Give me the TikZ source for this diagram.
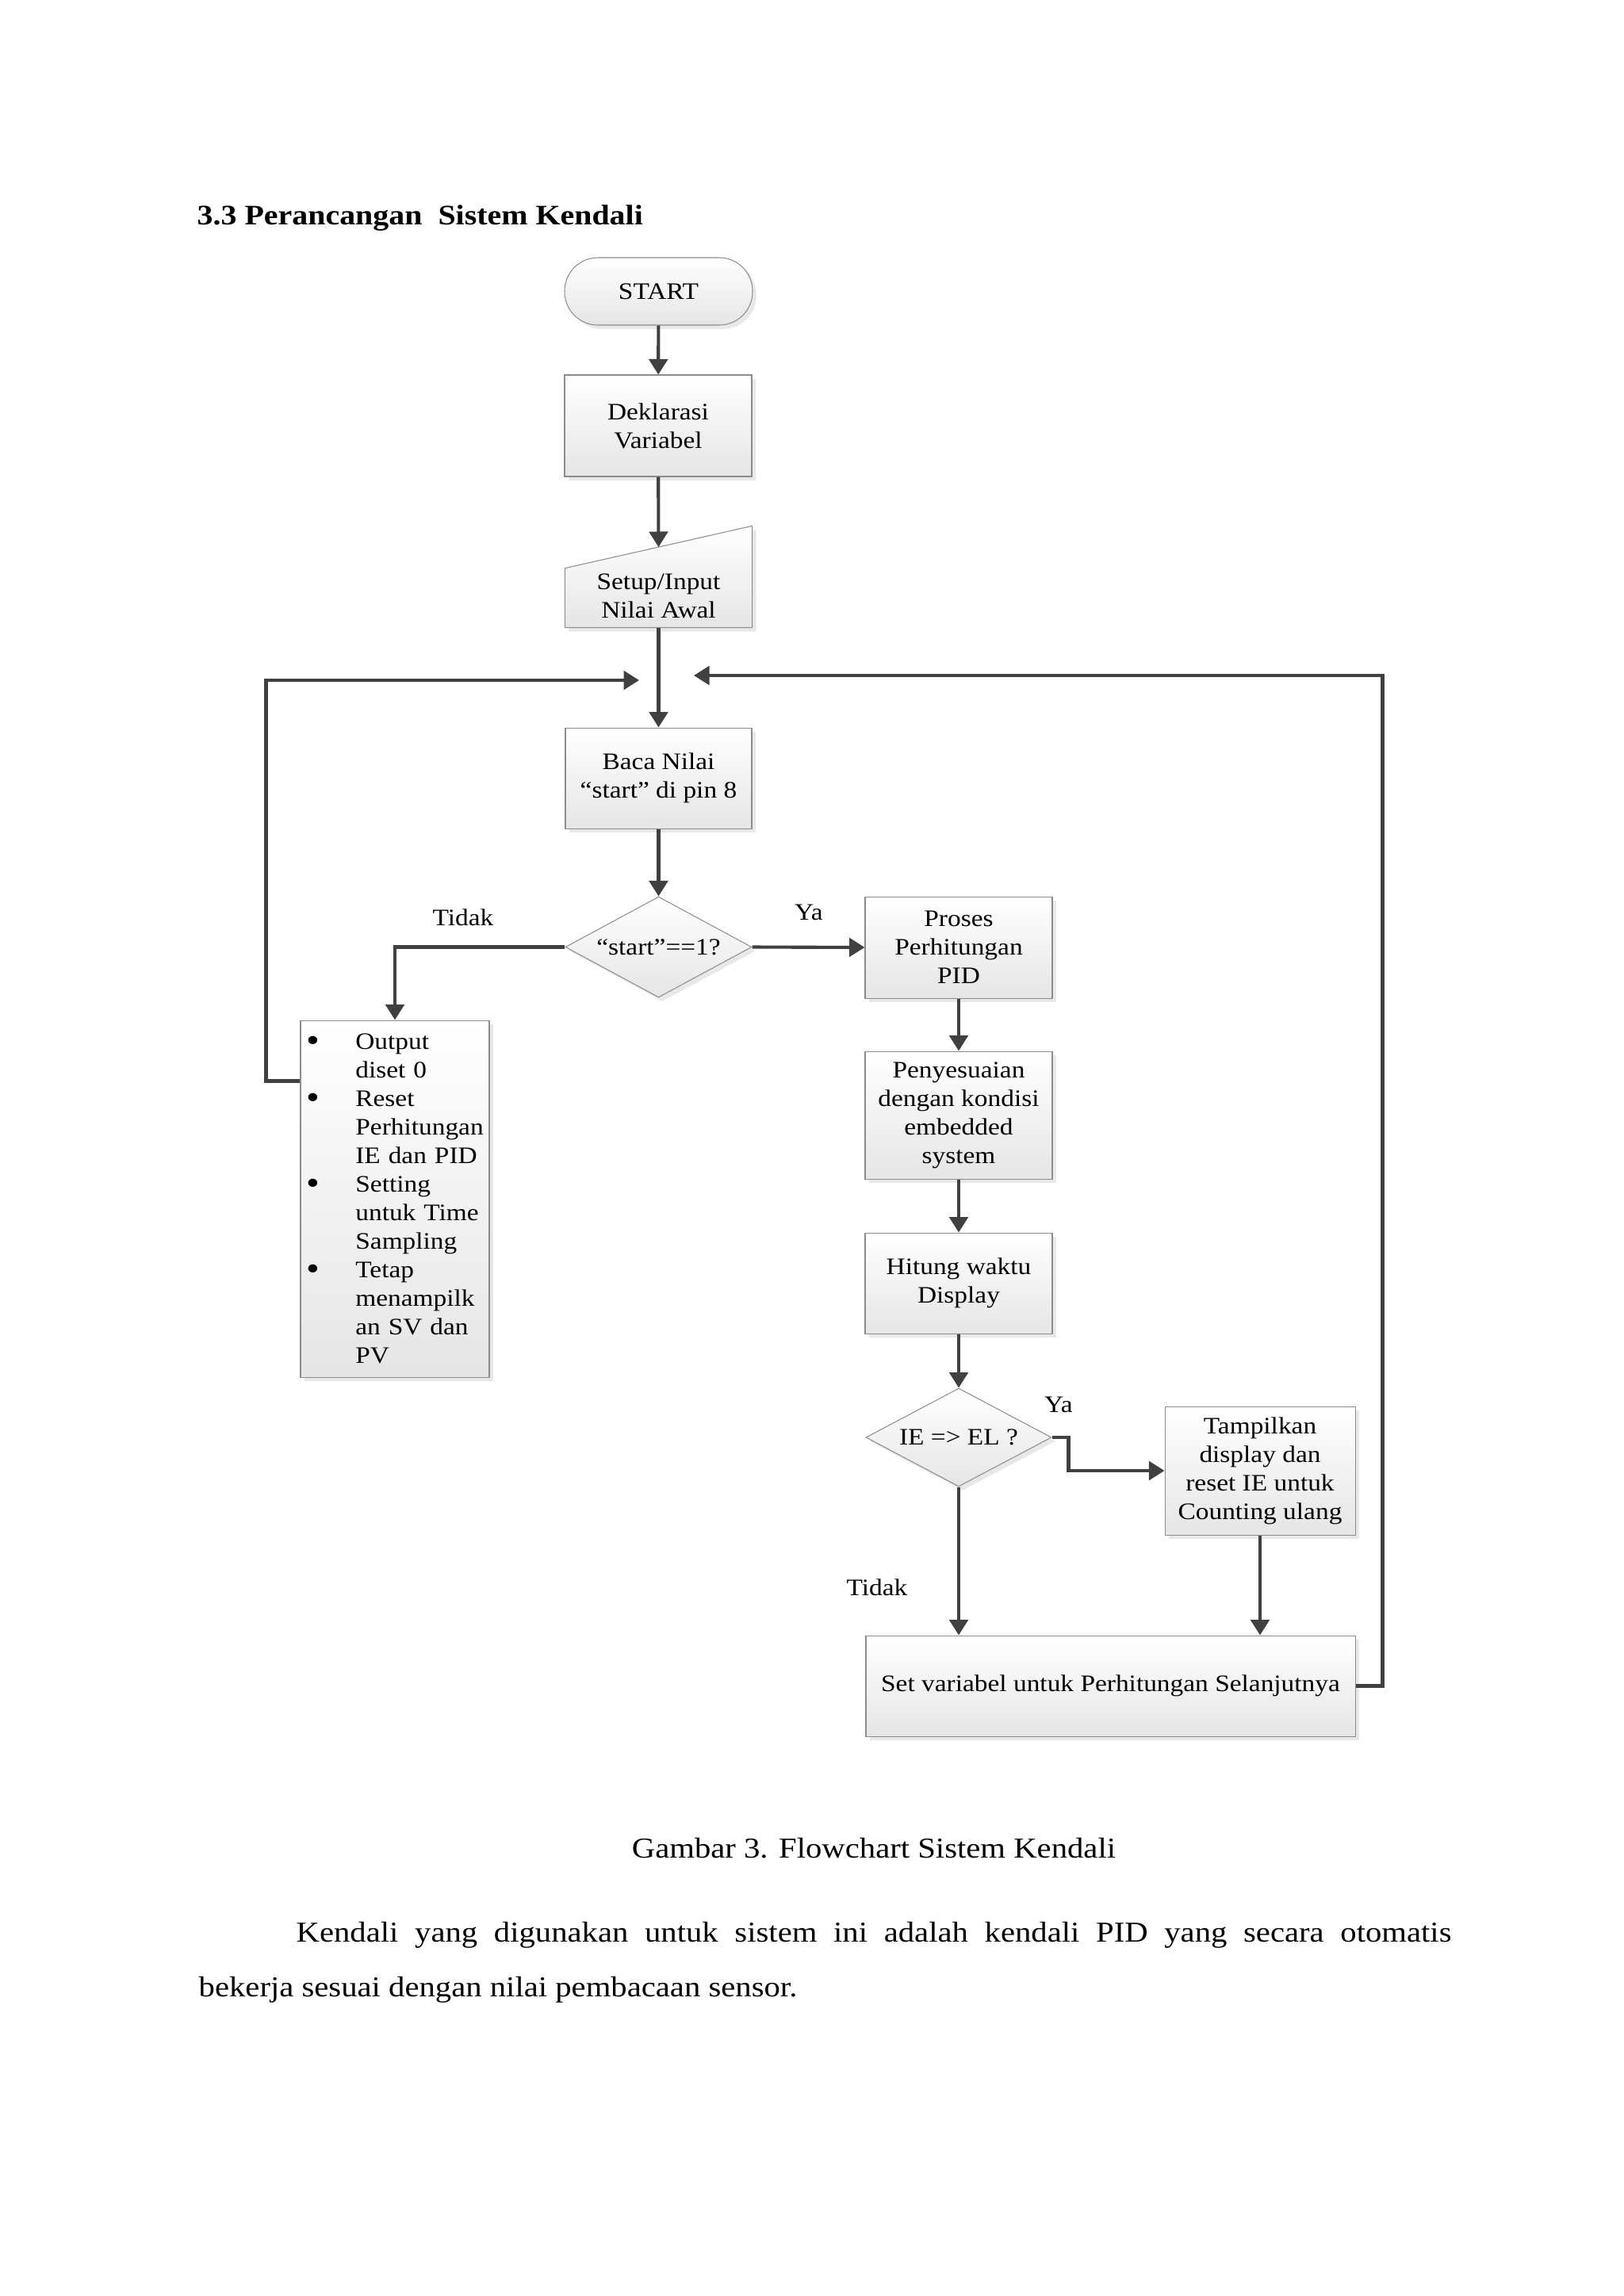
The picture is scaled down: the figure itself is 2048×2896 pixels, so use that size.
\documentclass[tikz,border=0pt]{standalone}
\usepackage{fontspec}
\setmainfont{Liberation Serif}[FakeStretch=1.12]
\usetikzlibrary{shapes.geometric,arrows.meta,shadows}
\newcommand\flowfont{\fontsize{8.7}{10.5}\selectfont}
\newcommand\bodyfont{\fontsize{10.6}{12}\selectfont}
\newcommand\itm{\makebox[6.6mm][l]{\hspace{0.3mm}\raisebox{-0.3mm}{\fontsize{12.5}{10.5}\selectfont\textbullet}}}
\newcommand\gap{\hspace*{6.6mm}}

\begin{document}
\begin{tikzpicture}[x=0.102555mm, y=-0.102555mm,
  box/.style={draw=black!45, line width=0.3pt, top color=white, bottom color=black!10,
    drop shadow={shadow xshift=0.5mm, shadow yshift=-0.5mm, fill=black!18},
    font=\flowfont, align=center, inner sep=0pt},
  arr/.style={draw=black!75, line width=1.2pt, -{Triangle[length=2mm,width=2.4mm]}},
  lbl/.style={font=\flowfont, inner sep=0pt}]
\def\px{0.102555mm}
\useasboundingbox (0,0) rectangle (2048,2896);

\node[anchor=base west, inner sep=0pt, font=\bfseries\fontsize{10.4}{12}\selectfont] (title) at (248,283) {3.3 Perancangan\ \ Sistem Kendali};

% main column
\node[box, rounded corners=4.3mm, minimum width=237*\px, minimum height=85*\px] (start) at (830.5,367.5) {START};
\node[box, minimum width=236*\px, minimum height=128*\px] (dekl) at (830,537) {Deklarasi\\Variabel};
\node[minimum width=235*\px, minimum height=127*\px, inner sep=0pt] (setup) at (830.5,727.5) {};
\draw[box] (setup.south west) -- ++(0,-75) -- (setup.north east) -- (setup.south east) -- cycle;
\node[lbl, align=center] (setuptext) at (830.5,752) {Setup/Input\\Nilai Awal};
\coordinate (setupin) at (830.5,690);
\node[box, minimum width=235*\px, minimum height=127*\px] (baca) at (830.5,981.5) {Baca Nilai\\“start” di pin 8};
\node[box, diamond, aspect=1.84, minimum width=235*\px, minimum height=127*\px] (dec1) at (830.5,1194.5) {“start”==1?};

% left branch
\node[box, align=left, minimum width=238*\px, minimum height=450*\px, text width=228*\px, inner xsep=5*\px] (reset) at (498,1512)
  {\itm Output\\\gap diset 0\\\itm Reset\\\gap Perhitungan\\\gap IE dan PID\\\itm Setting\\\gap untuk Time\\\gap Sampling\\\itm Tetap\\\gap menampilk\\\gap an SV dan\\\gap PV};

% right branch
\node[box, minimum width=236*\px, minimum height=128*\px] (proses) at (1209,1195) {Proses\\Perhitungan\\PID};
\node[box, minimum width=236*\px, minimum height=161*\px] (penyes) at (1209,1406.5) {Penyesuaian\\dengan kondisi\\embedded\\system};
\node[box, minimum width=236*\px, minimum height=127*\px] (hitung) at (1209,1618.5) {Hitung waktu\\Display};
\node[box, diamond, aspect=1.89, minimum width=234*\px, minimum height=124*\px] (dec2) at (1209,1813) {IE => EL ?};
\node[box, minimum width=240*\px, minimum height=162*\px] (tampil) at (1589,1855) {Tampilkan\\display dan\\reset IE untuk\\Counting ulang};
\node[box, minimum width=617*\px, minimum height=127*\px] (set) at (1400.5,2126.5) {Set variabel untuk Perhitungan Selanjutnya};

\coordinate (backL) at (806,858);
\coordinate (backR) at (875,852);

\node[lbl] (tidak1) at (584,1157) {Tidak};
\node[lbl] (ya1) at (1020,1151) {Ya};
\node[lbl] (ya2) at (1335,1772) {Ya};
\node[lbl] (tidak2) at (1106,2002) {Tidak};

\draw[arr] (start) -- (dekl);
\draw[arr] (dekl) -- (setupin);
\draw[arr] (setup.south) -- (baca);
\draw[arr] (baca) -- (dec1);
\draw[arr] (dec1.east) -- (proses.west);
\draw[arr] (dec1.west) -| (reset.north);
\draw[arr] (reset.north west) ++(0,77) -- ++(-43,0) |- (backL);
\draw[arr] (proses) -- (penyes);
\draw[arr] (penyes) -- (hitung);
\draw[arr] (hitung) -- (dec2);
\draw[arr] (dec2.east) -- ++(21,0) |- (tampil.west);
\draw[arr] (dec2.south) -- (dec2.south |- set.north);
\draw[arr] (tampil.south) -- (tampil.south |- set.north);
\draw[arr] (set.east) -- ++(34,0) |- (backR);

\node[anchor=base, inner sep=0pt, font=\bodyfont] (caption) at (1102,2343) {Gambar 3. Flowchart Sistem Kendali};
\node[anchor=base west, inner sep=0pt, font=\bodyfont] (para1) at (373,2449) {\makebox[149.4mm][s]{Kendali yang digunakan untuk sistem ini adalah kendali PID yang secara otomatis}};
\node[anchor=base west, inner sep=0pt, font=\bodyfont] (para2) at (250,2518) {bekerja sesuai dengan nilai pembacaan sensor.};

\end{tikzpicture}
\end{document}
